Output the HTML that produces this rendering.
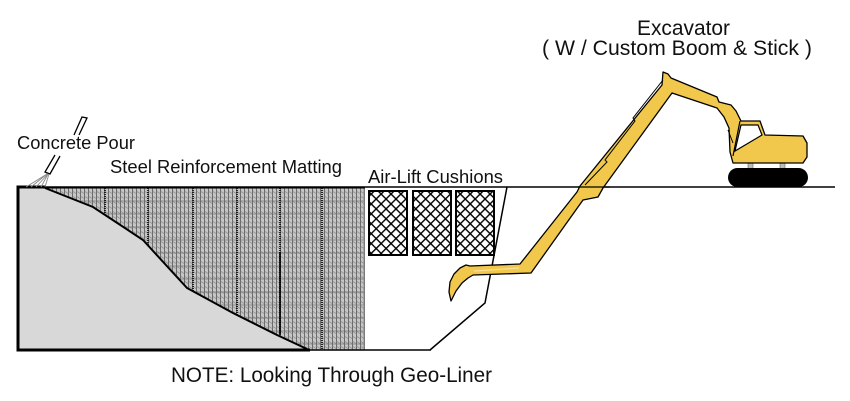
<!DOCTYPE html>
<html><head><meta charset="utf-8"><style>
html,body{margin:0;padding:0;background:#fff;}
svg{display:block;}
text{font-family:"Liberation Sans",Arial,sans-serif;fill:#111;}
</style></head><body>
<svg width="850" height="401" viewBox="0 0 850 401" xmlns="http://www.w3.org/2000/svg">
<defs>
<pattern id="mesh" patternUnits="userSpaceOnUse" width="4" height="5">
 <rect width="4" height="5" fill="#c6c6c6"/>
 <line x1="0.5" y1="0" x2="0.5" y2="5" stroke="#6c6c6c" stroke-width="1"/>
 <line x1="1" y1="1.5" x2="4" y2="3.5" stroke="#939393" stroke-width="0.9"/>
</pattern>
<pattern id="hatch" patternUnits="userSpaceOnUse" width="7" height="7" patternTransform="rotate(45)">
 <rect width="7" height="7" fill="#fff"/>
 <line x1="0" y1="0.7" x2="7" y2="0.7" stroke="#000" stroke-width="1.4"/>
 <line x1="0.7" y1="0" x2="0.7" y2="7" stroke="#000" stroke-width="1.4"/>
</pattern>
</defs>

<!-- steel matting -->
<rect x="40" y="188" width="325" height="162" fill="url(#mesh)"/>
<g stroke="#666" stroke-width="0.8" opacity="0.8">
 <line x1="40" y1="201" x2="365" y2="201"/>
 <line x1="40" y1="214" x2="365" y2="214"/>
 <line x1="40" y1="227" x2="365" y2="227"/>
 <line x1="40" y1="240" x2="365" y2="240"/>
 <line x1="40" y1="253" x2="365" y2="253"/>
 <line x1="40" y1="266" x2="365" y2="266"/>
 <line x1="40" y1="279" x2="365" y2="279"/>
 <line x1="40" y1="292" x2="365" y2="292"/>
 <line x1="40" y1="305" x2="365" y2="305"/>
 <line x1="40" y1="318" x2="365" y2="318"/>
 <line x1="40" y1="331" x2="365" y2="331"/>
 <line x1="40" y1="344" x2="365" y2="344"/>
</g>
<g stroke="#111" stroke-width="1.8" stroke-dasharray="1 1">
 <line x1="105" y1="188" x2="105" y2="350"/>
 <line x1="148" y1="188" x2="148" y2="350"/>
 <line x1="193" y1="188" x2="193" y2="350"/>
 <line x1="237" y1="188" x2="237" y2="350"/>
 <line x1="280" y1="188" x2="280" y2="350"/>
 <line x1="322" y1="188" x2="322" y2="350"/>
</g>
<line x1="280" y1="252" x2="280" y2="334" stroke="#000" stroke-width="1.6"/>
<line x1="364" y1="188" x2="364" y2="350" stroke="#888" stroke-width="1"/>

<!-- slope -->
<polygon points="18,187 45,188 93,207 143,240 187,288 233,313 277,335 307,349 18,350" fill="#d8d8d8"/>
<polyline points="45,188 93,207 143,240 187,288 233,313 277,335 307,349" fill="none" stroke="#000" stroke-width="2"/>

<!-- box -->
<line x1="18" y1="185.5" x2="18" y2="351.5" stroke="#000" stroke-width="3"/>
<line x1="16.5" y1="187" x2="46" y2="187" stroke="#000" stroke-width="3"/>
<line x1="16.5" y1="350" x2="310" y2="350" stroke="#000" stroke-width="3"/>
<line x1="310" y1="350" x2="431" y2="350" stroke="#000" stroke-width="1.6"/>
<polyline points="430,350 485,303 507,187" fill="none" stroke="#000" stroke-width="1.5"/>

<!-- ground line -->
<line x1="45" y1="187" x2="835" y2="187" stroke="#000" stroke-width="1.5"/>
<line x1="45" y1="187.5" x2="365" y2="187.5" stroke="#000" stroke-width="2"/>

<!-- cushions -->
<rect x="369" y="191" width="38" height="64" fill="url(#hatch)" stroke="#000" stroke-width="2"/>
<rect x="413" y="191" width="38" height="64" fill="url(#hatch)" stroke="#000" stroke-width="2"/>
<rect x="456" y="191" width="38" height="64" fill="url(#hatch)" stroke="#000" stroke-width="2"/>

<!-- concrete hose -->
<g stroke="#000" stroke-width="1.3" fill="none">
 <polyline points="74,135 82,117 87,118 79,135"/>
 <polyline points="55,155 45,172 50,174 60,156"/>
</g>
<g stroke="#888" stroke-width="0.9">
 <line x1="47" y1="174" x2="26" y2="187"/>
 <line x1="47" y1="174" x2="31" y2="187"/>
 <line x1="48" y1="174" x2="36" y2="187"/>
 <line x1="48" y1="174" x2="41" y2="187"/>
 <line x1="49" y1="174" x2="45" y2="187"/>
</g>

<!-- excavator -->
<rect x="748" y="162" width="5" height="7" fill="#bbb" stroke="#666" stroke-width="0.6"/>
<rect x="780" y="162" width="5" height="7" fill="#bbb" stroke="#666" stroke-width="0.6"/>
<rect x="728" y="168" width="80" height="19" rx="9.5" ry="9.5" fill="#000"/>
<path d="M663,72 L668,74 L671,78 L717,97 L719,102 L731,105 L736,111 L741,121 L760,121 L765,135 L803,136 L807,143 L807,157 L803,163 L733,163 L730,152 L729,128 L724,117 L717,108 L672,93 L603,188 L598,197 L583,200 L531,273 L473,275 L468,278 L462,283 L456,291 L451,301 L449,292 L450,282 L454,274 L460,268 L466,265 L470,266 L520,264 L577,192 L580,186 L662,85 Z" fill="#f1c84c" stroke="#000" stroke-width="1.3" stroke-linejoin="round"/>
<polyline points="663,80 633,118 635,121 605,160 607,162 585,185" fill="none" stroke="#000" stroke-width="1"/>
<line x1="474" y1="271" x2="519" y2="268" stroke="#f8e09a" stroke-width="1.2"/>
<polygon points="741,125 758,125 762,135 735,151" fill="#fff" stroke="#000" stroke-width="1.2"/>
<line x1="740" y1="121" x2="733" y2="156" stroke="#000" stroke-width="1.2"/>
<line x1="728" y1="130" x2="733" y2="143" stroke="#000" stroke-width="1"/>
<line x1="578" y1="187" x2="610" y2="187" stroke="#000" stroke-width="1.3"/>

<!-- labels -->
<text x="637" y="35" font-size="21" textLength="93" lengthAdjust="spacingAndGlyphs">Excavator</text>
<text x="542" y="55" font-size="21" textLength="270" lengthAdjust="spacingAndGlyphs">( W / Custom Boom &amp; Stick )</text>
<text x="17" y="149" font-size="18" textLength="118" lengthAdjust="spacingAndGlyphs">Concrete Pour</text>
<text x="110" y="173" font-size="18" textLength="232" lengthAdjust="spacingAndGlyphs">Steel Reinforcement Matting</text>
<text x="368" y="183" font-size="18" textLength="135" lengthAdjust="spacingAndGlyphs">Air-Lift Cushions</text>
<text x="171" y="382" font-size="21" textLength="321" lengthAdjust="spacingAndGlyphs">NOTE: Looking Through Geo-Liner</text>
</svg>
</body></html>
